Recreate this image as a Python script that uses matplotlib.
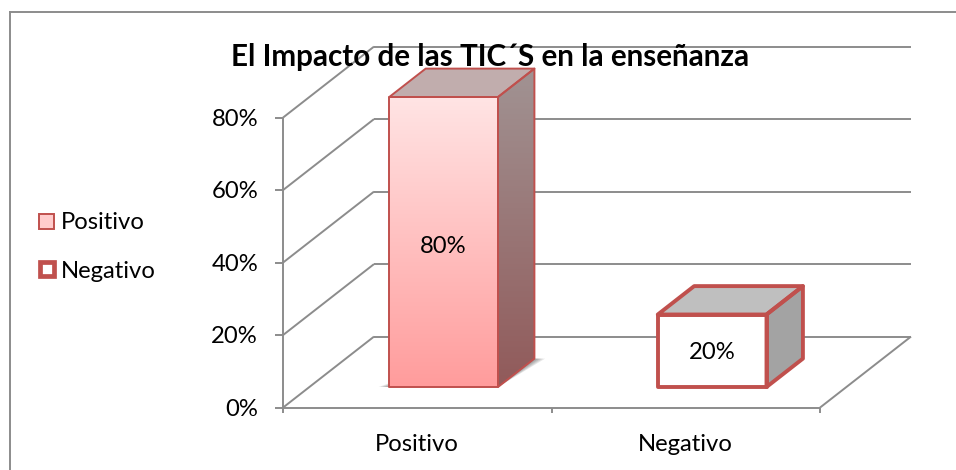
"""
plot.py

Excel style 3D column chart, drawn on a flat axes. The axes is the front
plane of the chart, depth is added with a small oblique projection.
"""

import numpy as np
import matplotlib
matplotlib.use("Agg")
import matplotlib.pyplot as plt
from matplotlib.lines import Line2D
from matplotlib.patches import Polygon, Rectangle

CATEGORIES = ["Positivo", "Negativo"]
VALUES = [80, 20]
VALUE_LABELS = ["80%", "20%"]
Y_TICKS = [0, 20, 40, 60, 80]
Y_TICK_LABELS = ["0%", "20%", "40%", "60%", "80%"]
TITLE = "El Impacto de las TIC\u00b4S en la enseñanza"

W, H = 956, 470
# front plane in pixels
LEFT, RIGHT, BOTTOM, PX_80 = 283, 820, 407.6, 117.6

# depth vector in data units (x categories, y percent)
DEPTH_X = 91 / ((RIGHT - LEFT) / 2)
DEPTH_Y = 71 / ((BOTTOM - PX_80) / 80)
BAR_D0, BAR_D1 = 0.29, 0.69
BAR_WIDTH = 0.405

GRID = "#8c8c8c"
RED = "#c0504d"
FONT_SIZE = 17.2

plt.rcParams["font.family"] = ["Lato", "DejaVu Sans"]


def proj(x, v, d):
    return (x + d * DEPTH_X, v + d * DEPTH_Y)


def gradient_face(ax, verts, top, bottom, zorder, extent):
    """Fill a polygon with a vertical gradient, clipped to the polygon."""
    poly = Polygon(verts, closed=True, facecolor="none", edgecolor="none",
                   transform=ax.transData, clip_on=False)
    ax.add_patch(poly)
    top = np.array(matplotlib.colors.to_rgb(top))
    bottom = np.array(matplotlib.colors.to_rgb(bottom))
    t = np.linspace(0, 1, 128)[:, None, None]
    img = top[None, None, :] * (1 - t) + bottom[None, None, :] * t
    im = ax.imshow(img, extent=extent, origin="upper", aspect="auto",
                   zorder=zorder, interpolation="bilinear")
    # the bar goes above the axes box, so clip to the figure and the polygon only
    im.set_clip_box(ax.figure.bbox)
    im.set_clip_path(poly)


def draw_shadow(ax, x0, x1, d0, d1):
    # soft shadow on the floor, a small wedge left of the bar and one behind it
    for i in range(1, 6):
        g = 0.008 * i
        verts = [proj(x0 - g, 0, d0), proj(x1, 0, d0),
                 proj(x1 + g, 0, d1), proj(x1, 0, d1), proj(x0, 0, d0 + 0.02 * i)]
        ax.add_patch(Polygon(verts, closed=True, facecolor="#000000", alpha=0.09,
                             edgecolor="none", zorder=3, clip_on=False))


def draw_bar(ax, center, value, idx):
    x0, x1 = center - BAR_WIDTH / 2, center + BAR_WIDTH / 2
    front = [proj(x0, 0, BAR_D0), proj(x1, 0, BAR_D0),
             proj(x1, value, BAR_D0), proj(x0, value, BAR_D0)]
    side = [proj(x1, 0, BAR_D0), proj(x1, 0, BAR_D1),
            proj(x1, value, BAR_D1), proj(x1, value, BAR_D0)]
    top = [proj(x0, value, BAR_D0), proj(x1, value, BAR_D0),
           proj(x1, value, BAR_D1), proj(x0, value, BAR_D1)]

    if idx == 0:
        draw_shadow(ax, x0, x1, BAR_D0, BAR_D1)
        gradient_face(ax, front, "#ffe4e4", "#ff9c9c", 4,
                      (front[0][0], front[1][0], front[0][1], front[2][1]))
        gradient_face(ax, side, "#a19393", "#915a5a", 4,
                      (side[0][0], side[1][0], side[0][1], side[2][1]))
        ax.add_patch(Polygon(top, closed=True, facecolor="#c1adad",
                             edgecolor="none", zorder=4, clip_on=False))
        lw = 1.4
    else:
        ax.add_patch(Polygon(front, closed=True, facecolor="white",
                             edgecolor="none", zorder=4, clip_on=False))
        ax.add_patch(Polygon(side, closed=True, facecolor="#a3a3a3",
                             edgecolor="none", zorder=4, clip_on=False))
        ax.add_patch(Polygon(top, closed=True, facecolor="#bfbfbf",
                             edgecolor="none", zorder=4, clip_on=False))
        lw = 2.8
    for face in (front, side, top):
        ax.add_patch(Polygon(face, closed=True, facecolor="none", edgecolor=RED,
                             linewidth=lw, joinstyle="round", zorder=5, clip_on=False))
    # labels sit a little under the middle of the bar
    ax.text(center + BAR_D0 * DEPTH_X, value / 2 + BAR_D0 * DEPTH_Y - 0.4 - value * 0.01,
            VALUE_LABELS[idx], ha="center", va="center", fontsize=FONT_SIZE,
            color="black", zorder=6)


def main():
    fig = plt.figure(figsize=(W / 100, H / 100), dpi=100, facecolor="white")
    ax = fig.add_axes([LEFT / W, 1 - BOTTOM / H, (RIGHT - LEFT) / W, (BOTTOM - PX_80) / H])
    ax.set_xlim(0, len(CATEGORIES))
    ax.set_ylim(0, 80)
    ax.patch.set_visible(False)
    for s in ax.spines.values():
        s.set_visible(False)
    ax.set_xticks([])
    ax.set_yticks([])

    line = dict(color=GRID, linewidth=1.4, clip_on=False, zorder=1, solid_capstyle="butt")
    # back wall grid and the wall on the left
    for v in Y_TICKS:
        a, b = proj(0, v, 1), proj(len(CATEGORIES), v, 1)
        c = proj(0, v, 0)
        ax.plot([a[0], b[0]], [a[1], b[1]], **line)
        ax.plot([c[0], a[0]], [c[1], a[1]], **line)
    # front axes, floor edges and tick marks
    ax.plot([0, 0], [0, 80], **line)
    ax.plot([0, len(CATEGORIES)], [0, 0], **line)
    end = proj(len(CATEGORIES), 0, 1)
    ax.plot([len(CATEGORIES), end[0]], [0, end[1]], **line)
    for i in range(len(CATEGORIES) + 1):
        ax.plot([i, i], [0, -1.6], **line)
    for v in Y_TICKS:
        ax.plot([-0.03, 0], [v, v], **line)

    for i, v in enumerate(VALUES):
        draw_bar(ax, i + 0.5, v, i)
    # imshow moves the limits
    ax.set_xlim(0, len(CATEGORIES))
    ax.set_ylim(0, 80)

    for v, lab in zip(Y_TICKS, Y_TICK_LABELS):
        ax.text(-0.093, v - 0.4, lab, ha="right", va="center", fontsize=FONT_SIZE, clip_on=False)
    for i, cat in enumerate(CATEGORIES):
        ax.text(i + 0.5, -10.1, cat, ha="center", va="center", fontsize=FONT_SIZE, clip_on=False)

    fig.text(490 / W, 1 - 57 / H, TITLE, ha="center", va="center",
             fontsize=21.3, fontweight="bold", color="black", zorder=10)

    # legend, drawn by hand to keep the little boxes
    fig.add_artist(Rectangle((39 / W, 1 - 228.5 / H), 15 / W, 15 / H, transform=fig.transFigure,
                             facecolor="#ffcccc", edgecolor=RED, linewidth=1.4))
    fig.add_artist(Rectangle((39.5 / W, 1 - 276 / H), 14.5 / W, 14.5 / H, transform=fig.transFigure,
                             facecolor="white", edgecolor=RED, linewidth=3.4))
    fig.text(61 / W, 1 - 223 / H, CATEGORIES[0], ha="left", va="center", fontsize=FONT_SIZE)
    fig.text(61 / W, 1 - 271 / H, CATEGORIES[1], ha="left", va="center", fontsize=FONT_SIZE)

    # chart frame, cut off by the picture on the right and at the bottom
    frame = dict(color=GRID, linewidth=1.4, transform=fig.transFigure)
    fig.add_artist(Line2D([9.5 / W, 1], [1 - 11.5 / H, 1 - 11.5 / H], **frame))
    fig.add_artist(Line2D([9.5 / W, 9.5 / W], [1 - 11.5 / H, 0], **frame))

    fig.savefig("out.png", dpi=100)


if __name__ == "__main__":
    main()
